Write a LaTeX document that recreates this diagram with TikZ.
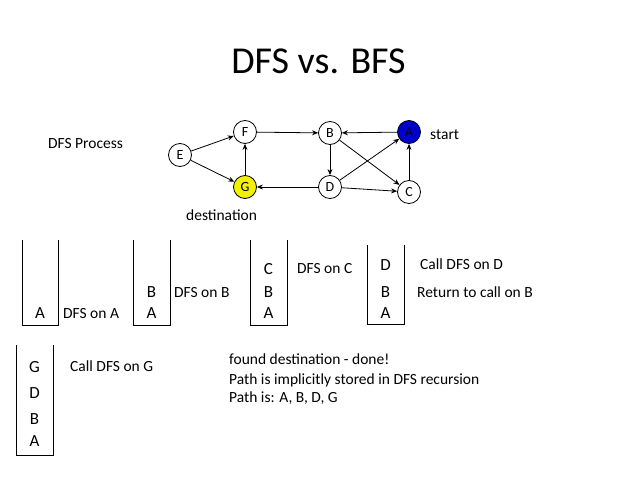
\documentclass[tikz,border=0pt]{standalone}
\usepackage{fontspec}
\setmainfont{Carlito}
\usetikzlibrary{arrows.meta}
\definecolor{startblue}{RGB}{0,0,205}
\definecolor{destyellow}{RGB}{242,242,0}
\begin{document}
\begin{tikzpicture}[x=1pt,y=-1pt,
  vert/.style={circle,draw=black,line width=0.8pt,minimum size=23pt,inner sep=0pt,font=\fontsize{14}{14}\selectfont,fill=white},
  edge/.style={draw=black,line width=0.8pt,-{Stealth[length=6pt,width=5pt]}},
  lbl/.style={anchor=base west,inner sep=0pt,font=\fontsize{15.5}{18}\selectfont},
  slbl/.style={anchor=base,inner sep=0pt,font=\fontsize{17}{18}\selectfont},
  stackbox/.style={draw=black,line width=0.8pt}]
\useasboundingbox[fill=white] (0,0) rectangle (638,479);

% title
\node[anchor=base,inner sep=0pt,font=\fontsize{38}{40}\selectfont] (title) at (318.5,73) {DFS vs. BFS};

% graph
\node[vert] (E) at (180,155) {E};
\node[vert] (F) at (245,132) {F};
\node[vert,fill=destyellow] (G) at (245,187) {G};
\node[vert] (B) at (330,133) {B};
\node[vert] (D) at (330,187) {D};
\node[vert,fill=startblue] (A) at (409,132) {A};
\node[vert] (C) at (409,192) {C};

\draw[edge] (E) -- (F);
\draw[edge] (E) -- (G);
\draw[edge] (G) -- (F);
\draw[edge] (F) -- (B);
\draw[edge] (A) -- (B);
\draw[edge] (B) -- (D);
\draw[edge] (B) -- (C);
\draw[edge] (D) -- (A);
\draw[edge] (D) -- (G);
\draw[edge] (D) -- (C);
\draw[edge] (C) -- (A);

\node[lbl] (proc) at (48,148) {DFS Process};
\node[lbl] (start) at (430,139) {start};
\node[lbl] (dest) at (186,220) {destination};

% stack 1
\draw[stackbox] (22,240) -- (22,325) -- (58,325) -- (58,240);
\node[slbl] (s1a) at (40,318) {A};
\node[lbl] (l1) at (63,318) {DFS on A};

% stack 2
\draw[stackbox] (133,240) -- (133,325) -- (170,325) -- (170,240);
\node[slbl] (s2b) at (151.5,297) {B};
\node[slbl] (s2a) at (151.5,318) {A};
\node[lbl] (l2) at (174,297) {DFS on B};

% stack 3
\draw[stackbox] (250,240) -- (250,325) -- (287,325) -- (287,240);
\node[slbl] (s3c) at (268.5,274) {C};
\node[slbl] (s3b) at (268.5,297) {B};
\node[slbl] (s3a) at (268.5,318) {A};
\node[lbl] (l3) at (297,273) {DFS on C};

% stack 4
\draw[stackbox] (367,245) -- (367,324) -- (404,324) -- (404,245);
\node[slbl] (s4d) at (385.5,270) {D};
\node[slbl] (s4b) at (385.5,297) {B};
\node[slbl] (s4a) at (385.5,318) {A};
\node[lbl] (l4a) at (420,269) {Call DFS on D};
\node[lbl] (l4b) at (417,297) {Return to call on B};

% stack 5
\draw[stackbox] (16,345) -- (16,455) -- (53,455) -- (53,345);
\node[slbl] (s5g) at (34.5,372) {G};
\node[slbl] (s5d) at (34.5,398) {D};
\node[slbl] (s5b) at (34.5,424) {B};
\node[slbl] (s5a) at (34.5,446) {A};
\node[lbl] (l5) at (70,371) {Call DFS on G};

\node[lbl] (f1) at (229,364) {found destination - done!};
\node[lbl] (f2) at (229,384) {Path is implicitly stored in DFS recursion};
\node[lbl] (f3) at (229,402) {Path is: A, B, D, G};
\end{tikzpicture}
\end{document}
